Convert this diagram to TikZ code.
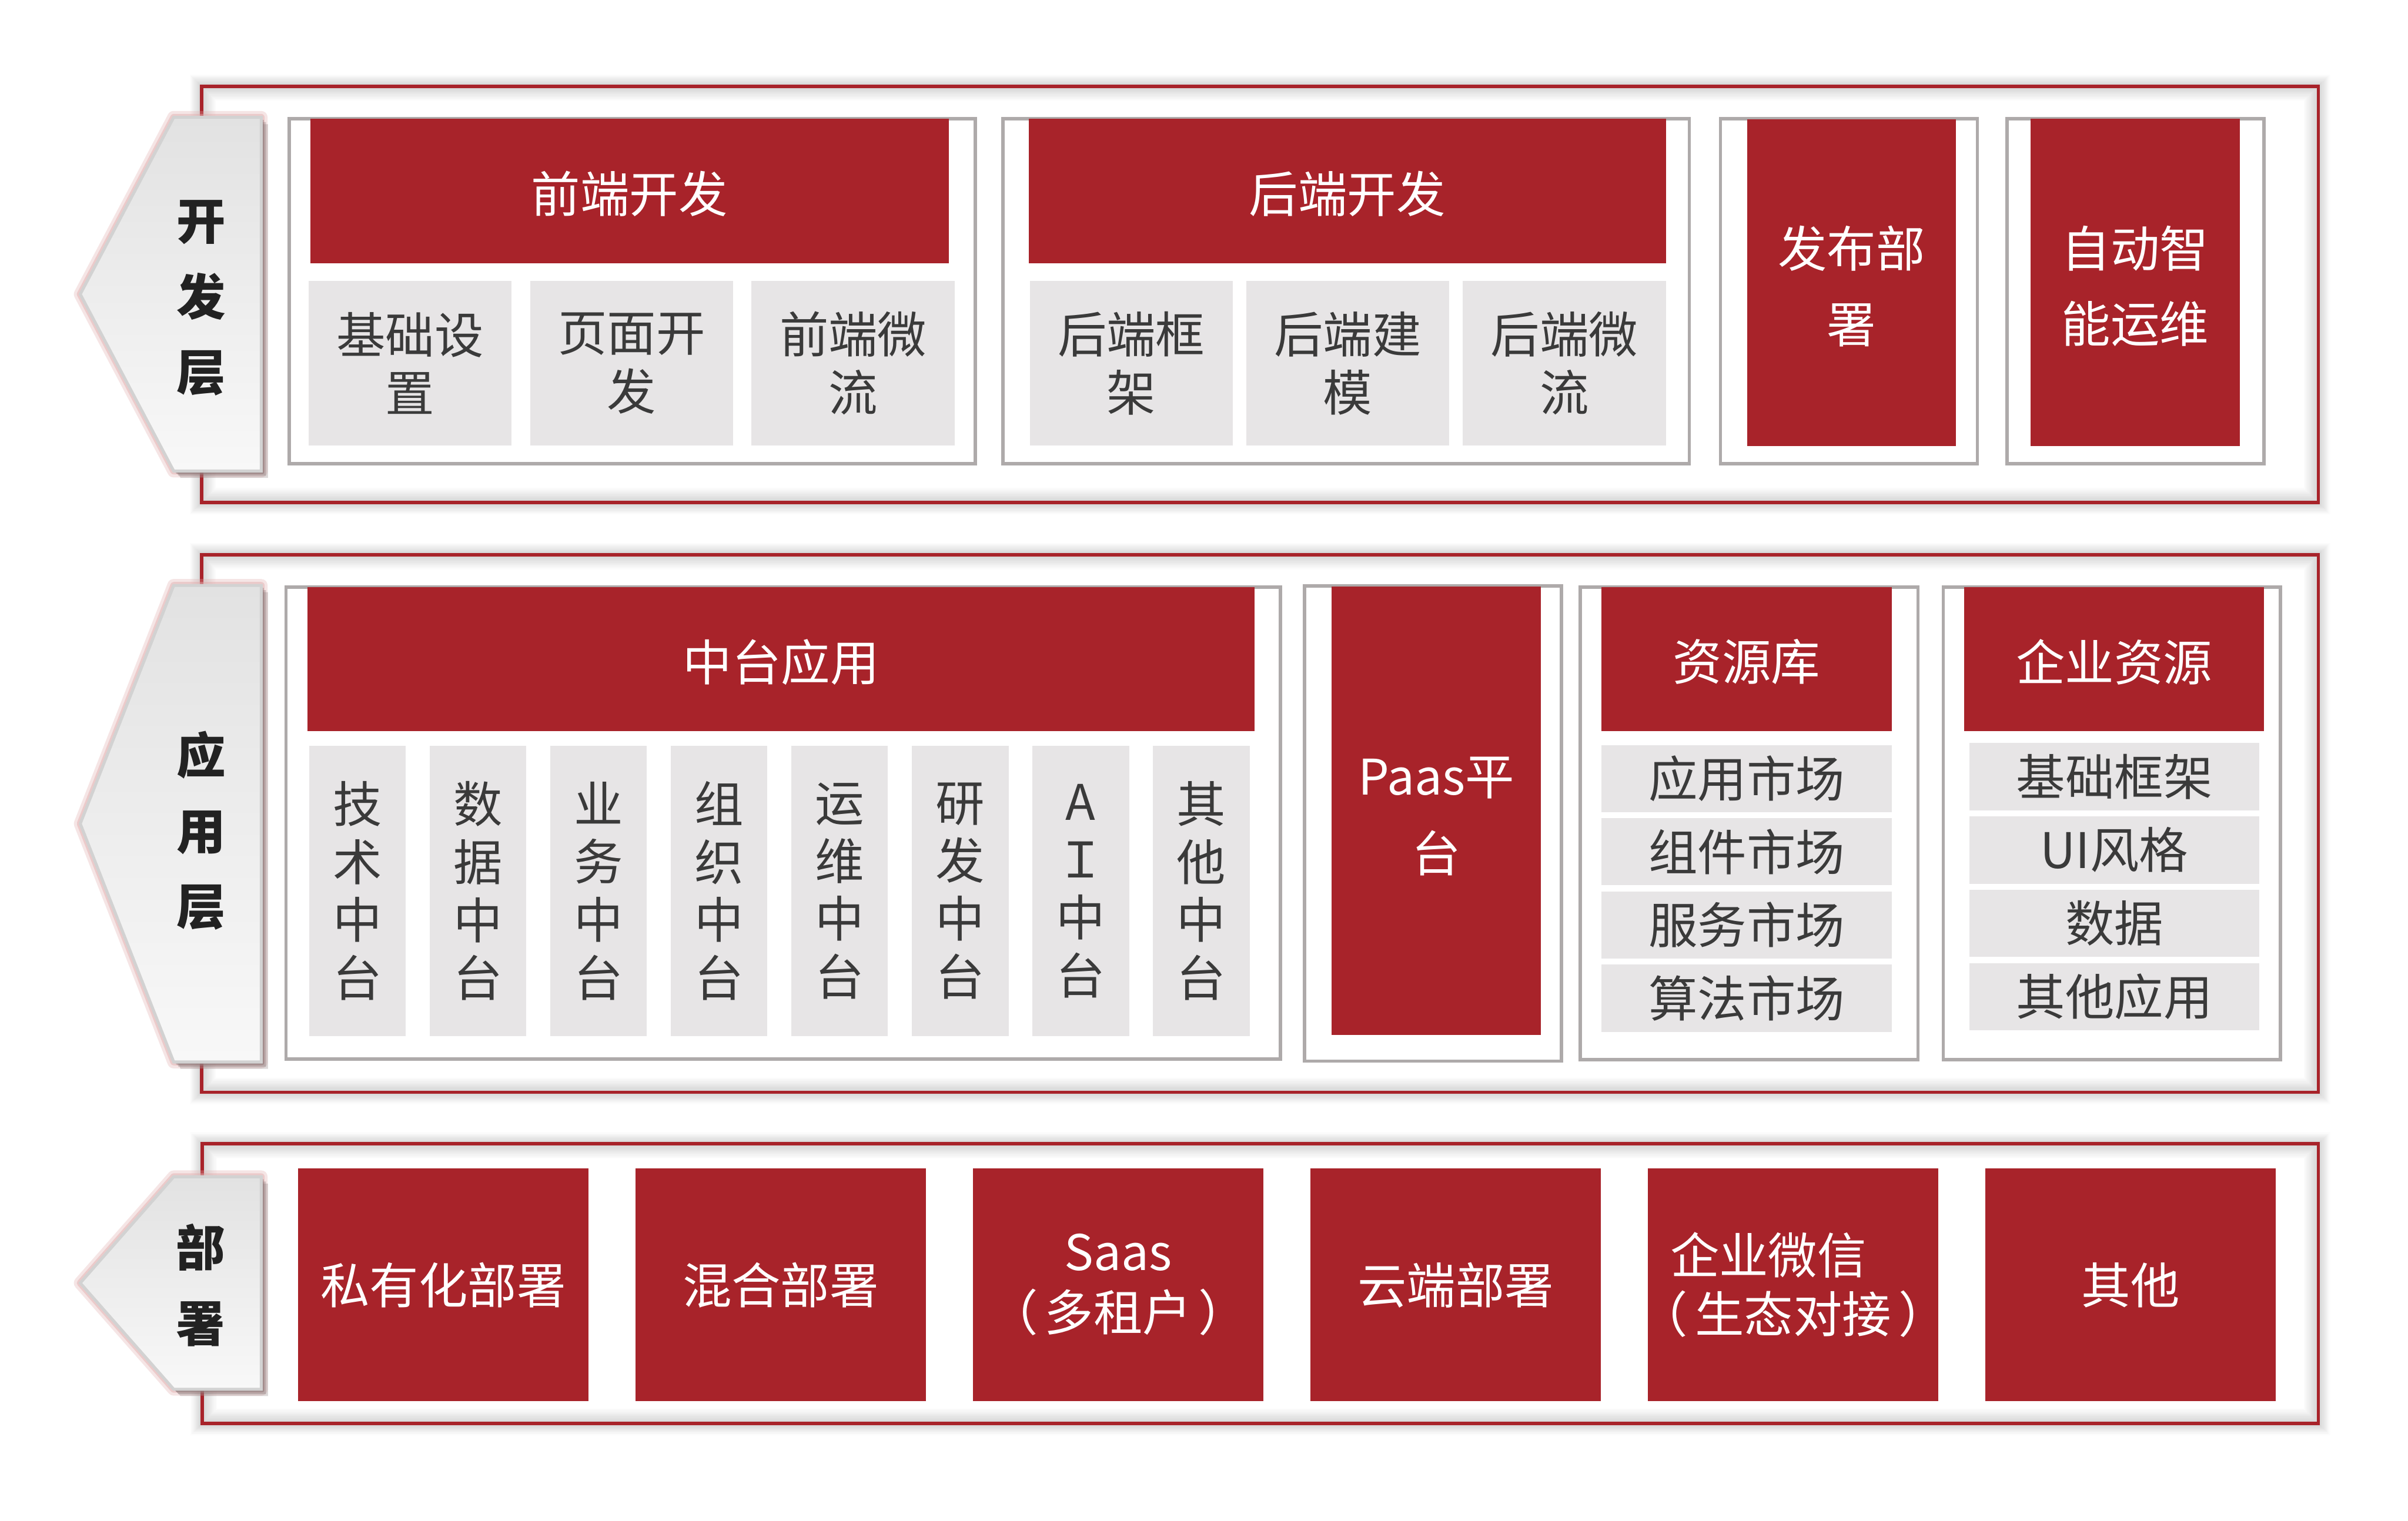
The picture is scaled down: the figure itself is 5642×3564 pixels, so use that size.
\documentclass[tikz,border=0pt]{standalone}
\usepackage{fontspec}
\setmainfont{Noto Sans CJK SC}
\definecolor{cred}{RGB}{168,35,42}
\definecolor{ccell}{RGB}{231,229,230}
\definecolor{cframe}{RGB}{174,170,170}
\definecolor{ctext}{RGB}{58,58,58}
\definecolor{ctab}{RGB}{34,34,34}
\definecolor{ctabA}{RGB}{226,226,226}
\definecolor{ctabB}{RGB}{214,214,214}
\definecolor{ctabC}{RGB}{248,248,248}
\definecolor{ctabE}{RGB}{210,210,210}
\definecolor{cglow}{RGB}{225,170,170}
\definecolor{cshad}{RGB}{120,105,105}
\newcommand\ff[1]{\fontsize{11.5}{#1}\selectfont}
% box with text inside
\newcommand\bx[7]{\node[#6,minimum width={((#4)-(#2))*0.1pt},minimum height={((#5)-(#3))*0.1pt}] (#1) at ({((#2)+(#4))/2},{((#3)+(#5))/2}) {#7};}
% box with separately placed (shifted) text: #7 shift, #8 baselineskip, #9 text
\newcommand\bxs[9]{\node[#6,minimum width={((#4)-(#2))*0.1pt},minimum height={((#5)-(#3))*0.1pt}] (#1) at ({((#2)+(#4))/2},{((#3)+(#5))/2}) {};
  \node[wtext,font=\ff{#8}] (#1t) at ([yshift=#7]#1.center) {#9};}
\newcommand\rowglow[4]{%
  \foreach \k in {1,...,8}{\pgfmathsetmacro\gc{17-2*\k}\pgfmathsetmacro\go{2+3*\k}%
    \draw[line width=0.32pt, draw=black!\gc] ({(#1)-\go},{(#2)-\go}) rectangle ({(#3)+\go},{(#4)+\go});}%
  \foreach \k in {0,...,9}{\pgfmathsetmacro\gc{15-1.5*\k}\pgfmathsetmacro\go{5.5+3*\k}%
    \draw[line width=0.32pt, draw=black!\gc] ({(#1)+\go},{(#2)+\go}) rectangle ({(#3)-\go},{(#4)-\go});}%
}
\newcommand\drawtab[2]{%
  \pgfmathsetmacro\ym{((#1)+(#2))/2}%
  \draw[draw=cglow, line width=3pt, opacity=.3, line join=round] (188,\ym) -- (407,#1) -- (612,#1) -- (612,#2) -- (407,#2) -- cycle;
  \draw[draw=cglow, line width=1.6pt, opacity=.45, line join=round] (188,\ym) -- (407,#1) -- (612,#1) -- (612,#2) -- (407,#2) -- cycle;
  \foreach \d/\op in {16/.25, 11/.3, 6/.4}{%
    \fill[cshad, opacity=\op] ({188+\d},{\ym+\d}) -- ({407+\d},{(#1)+\d}) -- ({612+\d},{(#1)+\d}) -- ({612+\d},{(#2)+\d}) -- ({407+\d},{(#2)+\d}) -- cycle;}
  \shade[top color=ctabA, middle color=ctabB, bottom color=ctabC] (188,\ym) -- (407,#1) -- (612,#1) -- (612,#2) -- (407,#2) -- cycle;
  \draw[draw=ctabE, line width=0.7pt, line join=miter] (188,\ym) -- (407,#1) -- (612,#1) -- (612,#2) -- (407,#2) -- cycle;
}
\tikzset{
  redbox/.style={rectangle, fill=cred, text=white, inner sep=0pt, align=center},
  cell/.style={rectangle, fill=ccell, text=ctext, inner sep=0pt, align=center},
  grp/.style={rectangle, draw=cframe, line width=0.8pt, fill=white, inner sep=0pt},
  redframe/.style={rectangle, draw=cred, line width=0.8pt, inner sep=0pt},
  wtext/.style={text=white, inner sep=0pt, align=center},
  tabtext/.style={text=ctab, align=center, inner sep=0pt, font=\bfseries\fontsize{11.5}{17.7}\selectfont},
}
\begin{document}
\begin{tikzpicture}[x=0.1pt,y=-0.1pt,font=\ff{13.7}]
\useasboundingbox (0,0) rectangle (5642,3564);
\fill[white] (0,0) rectangle (5642,3564);

% ---------- Row 1 ----------
\rowglow{472}{202}{5432}{1178}
\bx{f1}{472}{202}{5432}{1178}{redframe}{}
\bx{g1}{678}{278}{2285}{1087}{grp}{}
\bxs{h1}{727}{278}{2223}{617}{redbox}{-0.65pt}{13.7}{前端开发}
\bx{c11}{723}{659}{1199}{1044}{cell}{基础设\\置}
\bx{c12}{1242}{659}{1718}{1044}{cell}{页面开\\发}
\bx{c13}{1761}{659}{2237}{1044}{cell}{前端微\\流}
\bx{g2}{2350}{278}{3958}{1087}{grp}{}
\bxs{h2}{2411}{278}{3903}{617}{redbox}{-0.65pt}{13.7}{后端开发}
\bx{c21}{2413}{659}{2888}{1044}{cell}{后端框\\架}
\bx{c22}{2920}{659}{3396}{1044}{cell}{后端建\\模}
\bx{c23}{3427}{659}{3903}{1044}{cell}{后端微\\流}
\bx{g3}{4031}{278}{4633}{1087}{grp}{}
\bxs{b3}{4094}{279}{4583}{1045}{redbox}{-0.9pt}{17.8}{发布部\\署}
\bx{g4}{4702}{278}{5304}{1087}{grp}{}
\bxs{b4}{4758}{278}{5248}{1045}{redbox}{-0.9pt}{17.7}{自动智\\能运维}
\drawtab{275}{1104}
\node[tabtext] (t1) at (471,699) {开\\发\\层};

% ---------- Row 2 ----------
\rowglow{472}{1300}{5432}{2560}
\bx{f2}{472}{1300}{5432}{2560}{redframe}{}
\bx{g5}{670}{1376}{3000}{2482}{grp}{}
\bxs{h5}{720}{1376}{2940}{1714}{redbox}{-0.65pt}{13.7}{中台应用}
\foreach \i/\t in {0/{技\\术\\中\\台},1/{数\\据\\中\\台},2/{业\\务\\中\\台},3/{组\\织\\中\\台},4/{运\\维\\中\\台},5/{研\\发\\中\\台},6/{A\\Ｉ\\中\\台},7/{其\\他\\中\\台}}{%
  \pgfmathsetmacro\xa{724+282.4*\i}\pgfmathsetmacro\xb{\xa+227}%
  \bx{m\i}{\xa}{1748}{\xb}{2428}{cell,font=\ff{13.6}}{\t}}
\bx{g6}{3057}{1373}{3659}{2487}{grp}{}
\bxs{p6}{3120}{1375}{3610}{2426}{redbox}{-1.3pt}{18}{Paas平\\台}
\bx{g7}{3703}{1376}{4494}{2483}{grp}{}
\bxs{h7}{3752}{1376}{4433}{1714}{redbox}{-0.65pt}{13.7}{资源库}
\bx{r71}{3752}{1746}{4433}{1903}{cell}{应用市场}
\bx{r72}{3752}{1918}{4433}{2075}{cell}{组件市场}
\bx{r73}{3752}{2089}{4433}{2247}{cell}{服务市场}
\bx{r74}{3752}{2261}{4433}{2419}{cell}{算法市场}
\bx{g8}{4553}{1376}{5343}{2483}{grp}{}
\bxs{h8}{4602}{1376}{5305}{1714}{redbox}{-0.65pt}{13.7}{企业资源}
\bx{r81}{4614}{1741}{5294}{1899}{cell}{基础框架}
\bx{r82}{4614}{1913}{5294}{2071}{cell}{UI风格}
\bx{r83}{4614}{2085}{5294}{2243}{cell}{数据}
\bx{r84}{4614}{2257}{5294}{2415}{cell}{其他应用}
\drawtab{1372}{2489}
\node[tabtext] (t2) at (471,1947) {应\\用\\层};

% ---------- Row 3 ----------
\rowglow{474}{2681}{5432}{3336}
\bx{f3}{474}{2681}{5432}{3336}{redframe}{}
\foreach \i/\t in {0/{私有化部署},1/{混合部署},3/{云端部署},5/{其他}}{%
  \pgfmathsetmacro\xa{698+790.7*\i}\pgfmathsetmacro\xb{\xa+681}%
  \bx{d\i}{\xa}{2739}{\xb}{3284}{redbox,font=\ff{14}}{\t}}
\bxs{d2}{2279.4}{2739}{2960.4}{3284}{redbox}{0pt}{14.2}{Saas\\（\hspace{1.5pt}多租户\hspace{1.5pt}）}
\bxs{d4}{3860.8}{2739}{4541.8}{3284}{redbox}{0pt}{13.8}{企业微信\hspace*{11.6pt}\\（\hspace{1.7pt}生态对接\hspace{1.7pt}）}
\drawtab{2758}{3256}
\node[tabtext] (t3) at (470,3012) {部\\署};
\end{tikzpicture}
\end{document}
